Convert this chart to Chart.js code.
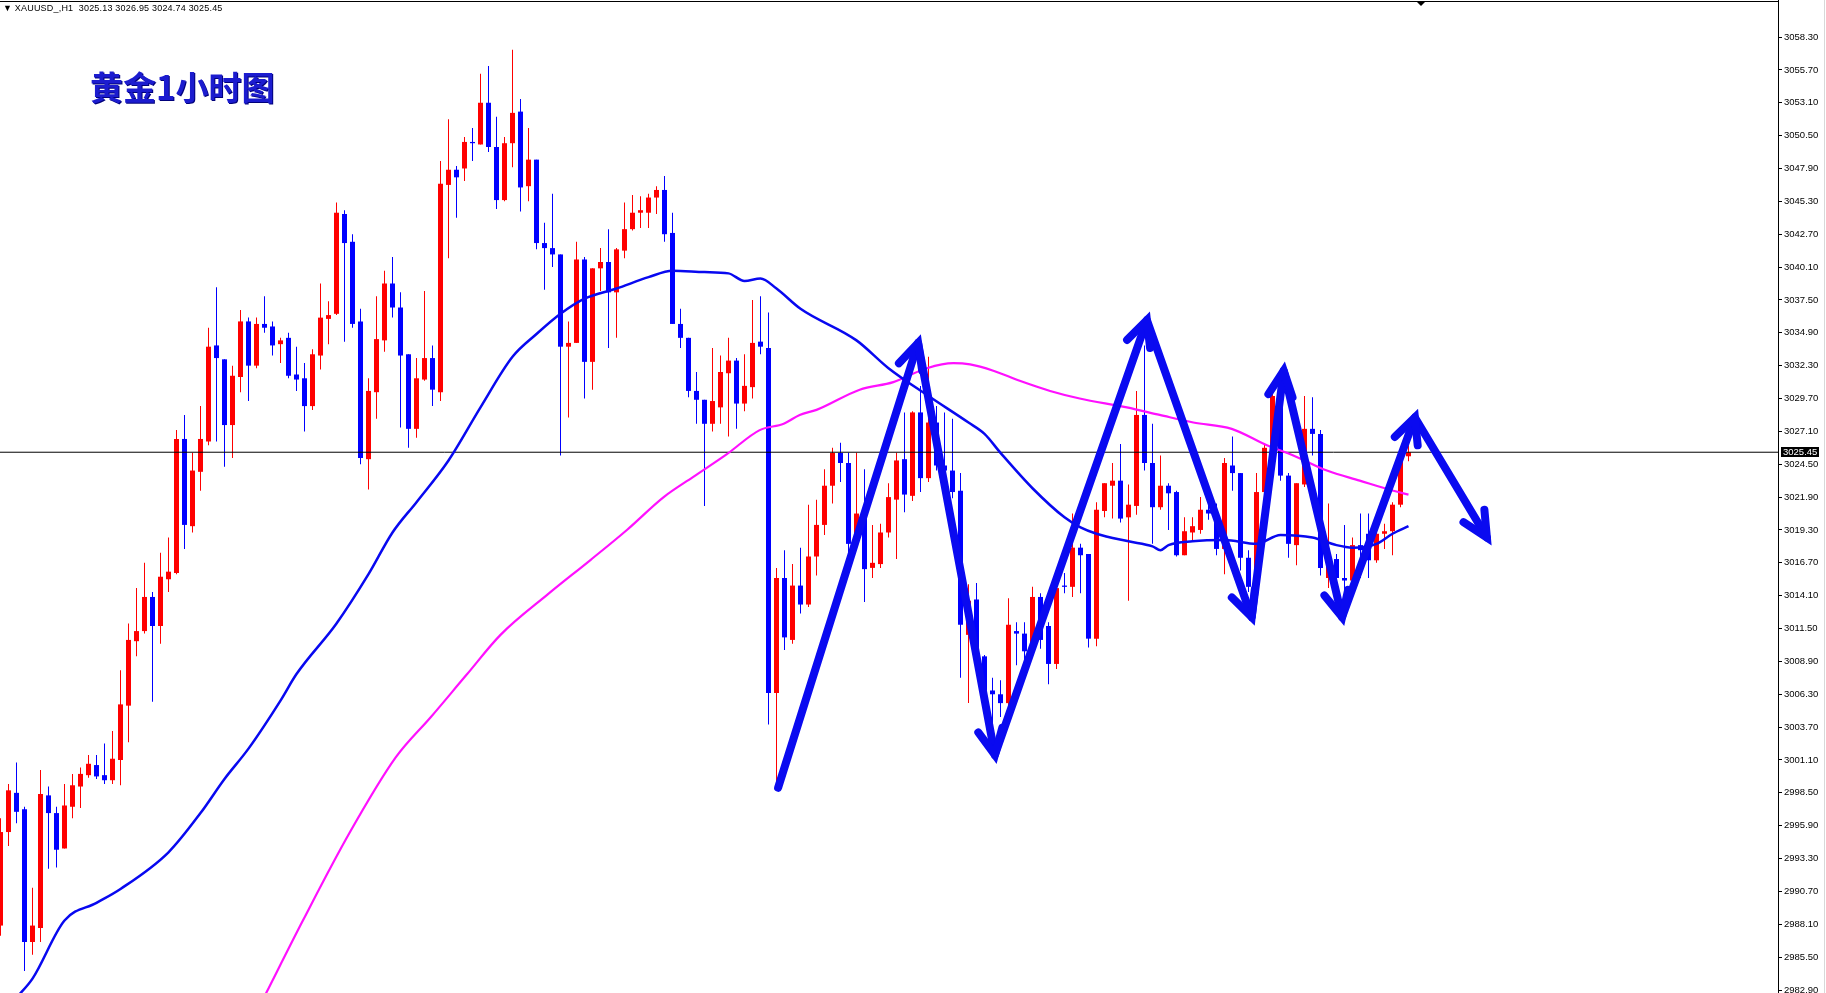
<!DOCTYPE html>
<html>
<head>
<meta charset="utf-8">
<script src="https://cdn.jsdelivr.net/npm/chart.js@4.4.1/dist/chart.umd.min.js"></script>
<style>
  html, body { margin: 0; padding: 0; background: #fff; }
  #wrap { position: relative; width: 1826px; height: 993px; overflow: hidden; }
  #chart { position: absolute; left: 0; top: 0; }
  #header { position: absolute; left: 3px; top: 3px; font: 9px "Liberation Sans", Arial, sans-serif; letter-spacing: 0.2px; color: #000; white-space: pre; }
  #title { position: absolute; left: 90px; top: 70px; font: bold 33px "Noto Sans CJK SC", sans-serif; color: #1c1ccf; text-shadow: 1px 1px 0 #00007a; line-height: 1; }
</style>
</head>
<body>
<div id="wrap">
  <canvas id="chart" width="1826" height="993"></canvas>
  <div id="header">▼ XAUUSD_,H1  3025.13 3026.95 3024.74 3025.45</div>
  <div id="title">黄金1小时图</div>
</div>
<script>
// XAUUSD H1 candles, oldest first
const opens = [
  2988.0, 2995.4, 2998.5, 2997.2, 2986.7, 2987.8, 2998.3, 2996.9, 2994.1, 2997.4,
  2999.0, 2999.9, 3000.7, 2999.9, 2999.5, 3001.1, 3005.4, 3010.5, 3011.3, 3014.0,
  3011.7, 3015.4, 3015.9, 3026.5, 3019.6, 3023.9, 3026.3, 3033.9, 3032.8, 3027.6,
  3031.4, 3035.8, 3032.3, 3035.6, 3035.4, 3034.0, 3034.5, 3031.6, 3031.3, 3029.1,
  3033.1, 3036.0, 3036.4, 3044.3, 3042.1, 3035.8, 3024.9, 3030.2, 3034.3, 3038.8,
  3036.9, 3033.2, 3027.3, 3031.2, 3032.9, 3030.2, 3046.6, 3047.8, 3047.9, 3050.0,
  3049.8, 3053.1, 3049.6, 3045.4, 3049.9, 3052.4, 3046.5, 3048.6, 3042.0, 3041.6,
  3041.1, 3033.8, 3034.1, 3040.7, 3032.6, 3040.0, 3040.5, 3038.1, 3041.4, 3043.1,
  3044.4, 3044.4, 3045.6, 3046.2, 3042.8, 3035.6, 3034.5, 3030.3, 3029.6, 3027.7,
  3029.0, 3031.7, 3032.7, 3029.3, 3030.6, 3034.2, 3033.7, 3006.4, 3015.5, 3010.6,
  3014.9, 3013.4, 3017.2, 3019.7, 3022.8, 3025.4, 3024.6, 3018.5, 3020.6, 3016.3,
  3016.6, 3019.1, 3021.7, 3024.9, 3022.0, 3028.6, 3023.4, 3027.8, 3024.4, 3024.0,
  3022.4, 3011.0, 3013.8, 3009.3, 3006.6, 3006.3, 3005.6, 3011.3, 3011.1, 3010.1,
  3014.0, 3011.7, 3008.7, 3014.9, 3014.8, 3017.9, 3017.4, 3010.7, 3020.8, 3022.8,
  3023.2, 3020.3, 3021.2, 3028.4, 3024.6, 3021.1, 3022.8, 3022.3, 3017.3, 3019.1,
  3019.3, 3020.9, 3020.6, 3017.8, 3024.4, 3023.8, 3017.1, 3014.8, 3022.3, 3025.8,
  3029.8, 3023.6, 3018.1, 3022.9, 3027.3, 3026.9, 3015.5, 3017.0, 3015.5, 3015.3,
  3018.1, 3019.0, 3016.9, 3019.0, 3019.2, 3021.3, 3025.13
];
const highs = [
  2996.5, 2999.2, 3000.9, 2997.4, 2991.0, 3000.3, 2999.0, 2997.4, 2999.2, 3000.0,
  3000.5, 3001.5, 3001.5, 3002.4, 3003.4, 3008.2, 3011.9, 3014.7, 3016.7, 3014.4,
  3017.5, 3018.7, 3027.2, 3028.4, 3025.4, 3029.1, 3035.3, 3038.5, 3032.8, 3032.3,
  3036.7, 3036.1, 3036.1, 3037.8, 3035.8, 3034.5, 3034.9, 3033.8, 3032.5, 3033.6,
  3038.8, 3037.4, 3045.2, 3044.6, 3042.7, 3036.8, 3031.3, 3037.8, 3039.8, 3040.9,
  3038.1, 3033.2, 3032.9, 3038.2, 3033.9, 3048.5, 3051.8, 3048.1, 3050.4, 3051.1,
  3055.4, 3056.0, 3052.0, 3050.4, 3057.3, 3053.4, 3051.1, 3048.6, 3043.6, 3045.9,
  3041.1, 3035.8, 3042.1, 3040.9, 3040.0, 3041.6, 3043.1, 3041.6, 3045.2, 3045.8,
  3045.7, 3045.9, 3046.5, 3047.3, 3044.4, 3036.8, 3034.5, 3031.8, 3029.6, 3033.7,
  3033.1, 3034.5, 3032.9, 3033.2, 3037.5, 3037.8, 3036.5, 3016.3, 3017.7, 3016.6,
  3017.9, 3021.3, 3021.7, 3024.1, 3025.8, 3026.2, 3025.4, 3025.4, 3024.1, 3019.7,
  3019.8, 3023.0, 3025.4, 3028.6, 3028.7, 3030.7, 3033.0, 3029.1, 3028.6, 3028.1,
  3023.8, 3015.0, 3015.1, 3009.4, 3007.6, 3007.4, 3013.9, 3012.0, 3012.0, 3014.8,
  3014.3, 3012.0, 3014.8, 3015.9, 3020.6, 3018.2, 3017.4, 3021.5, 3023.0, 3024.6,
  3026.1, 3022.9, 3030.3, 3033.9, 3027.7, 3025.2, 3023.0, 3022.4, 3020.3, 3020.3,
  3021.9, 3021.9, 3021.4, 3025.0, 3026.7, 3023.8, 3017.7, 3023.8, 3026.1, 3030.1,
  3030.1, 3023.8, 3023.0, 3029.9, 3029.8, 3027.2, 3021.4, 3017.4, 3019.7, 3018.7,
  3020.6, 3020.6, 3019.8, 3019.8, 3021.5, 3025.2, 3026.0
];
const lows = [
  2987.2, 2994.3, 2996.1, 2984.4, 2985.7, 2986.7, 2992.5, 2992.6, 2994.1, 2996.5,
  2997.3, 2999.7, 2999.6, 2999.2, 2999.2, 2999.1, 3002.5, 3009.3, 3011.1, 3005.7,
  3010.3, 3014.4, 3015.8, 3017.8, 3019.1, 3022.4, 3026.0, 3026.3, 3024.3, 3025.0,
  3030.2, 3029.5, 3032.1, 3034.9, 3033.1, 3032.5, 3031.3, 3030.3, 3027.1, 3028.8,
  3032.0, 3034.0, 3036.3, 3034.2, 3035.3, 3024.5, 3022.5, 3028.1, 3033.4, 3036.1,
  3027.4, 3025.8, 3026.6, 3031.1, 3029.1, 3029.5, 3040.8, 3044.0, 3046.9, 3048.5,
  3049.8, 3049.2, 3044.7, 3045.3, 3048.0, 3044.5, 3045.3, 3041.5, 3038.3, 3040.1,
  3025.2, 3028.2, 3034.1, 3029.7, 3030.4, 3038.2, 3033.7, 3034.5, 3040.8, 3043.0,
  3043.2, 3043.2, 3044.3, 3042.1, 3035.6, 3033.7, 3029.8, 3027.7, 3021.2, 3027.1,
  3027.7, 3026.7, 3027.3, 3028.7, 3029.7, 3033.2, 3003.9, 2998.9, 3009.8, 3010.3,
  3012.7, 3013.2, 3015.7, 3018.9, 3021.4, 3023.1, 3017.1, 3017.8, 3013.6, 3015.5,
  3016.3, 3018.7, 3017.0, 3020.7, 3021.6, 3022.3, 3023.1, 3024.0, 3023.4, 3021.8,
  3007.6, 3005.6, 3008.2, 3005.8, 3003.6, 3004.5, 3005.3, 3008.6, 3009.0, 3009.8,
  3009.9, 3007.1, 3008.3, 3014.3, 3014.0, 3014.3, 3010.0, 3010.1, 3020.3, 3020.2,
  3019.9, 3013.7, 3020.5, 3024.0, 3018.2, 3020.9, 3019.3, 3017.2, 3017.3, 3018.4,
  3019.0, 3020.1, 3017.3, 3015.8, 3022.4, 3016.1, 3014.4, 3014.5, 3022.0, 3025.6,
  3023.2, 3017.1, 3016.5, 3022.7, 3025.2, 3015.7, 3014.7, 3014.5, 3012.0, 3014.9,
  3015.5, 3015.5, 3016.7, 3017.8, 3017.3, 3021.1, 3024.74
];
const closes = [
  2995.4, 2998.7, 2997.0, 2986.7, 2988.0, 2998.4, 2996.9, 2994.0, 2997.5, 2999.1,
  3000.0, 3000.8, 2999.8, 2999.5, 3001.2, 3005.5, 3010.6, 3011.3, 3014.0, 3011.7,
  3015.6, 3016.0, 3026.5, 3019.7, 3024.0, 3026.5, 3033.8, 3032.9, 3027.6, 3031.5,
  3035.8, 3032.3, 3035.6, 3035.3, 3033.9, 3034.3, 3031.5, 3031.2, 3029.1, 3033.2,
  3036.1, 3036.3, 3044.4, 3042.0, 3035.6, 3025.0, 3030.3, 3034.4, 3038.8, 3036.9,
  3033.1, 3027.3, 3031.3, 3032.9, 3030.4, 3046.7, 3047.8, 3047.2, 3050.0, 3049.9,
  3053.1, 3049.6, 3045.4, 3049.9, 3052.3, 3046.4, 3048.6, 3042.0, 3041.6, 3041.1,
  3033.8, 3034.1, 3040.7, 3032.6, 3040.0, 3040.5, 3038.1, 3041.5, 3043.1, 3044.4,
  3044.6, 3045.6, 3046.2, 3042.7, 3035.6, 3034.5, 3030.3, 3029.6, 3027.7, 3029.5,
  3031.8, 3032.7, 3029.3, 3030.7, 3034.1, 3033.8, 3006.4, 3015.5, 3010.8, 3014.9,
  3013.4, 3017.2, 3019.7, 3022.8, 3025.4, 3024.6, 3018.2, 3020.6, 3016.2, 3016.7,
  3019.1, 3021.9, 3024.8, 3022.1, 3028.6, 3023.4, 3027.8, 3024.4, 3024.0, 3022.3,
  3011.8, 3013.7, 3009.8, 3006.6, 3006.3, 3005.6, 3011.8, 3011.1, 3009.7, 3014.0,
  3010.6, 3008.7, 3014.7, 3014.8, 3017.9, 3017.3, 3010.7, 3020.9, 3023.0, 3023.2,
  3020.2, 3021.3, 3028.4, 3024.6, 3021.1, 3022.8, 3022.2, 3017.3, 3019.2, 3019.6,
  3020.9, 3020.6, 3017.8, 3024.6, 3023.8, 3017.1, 3014.8, 3022.3, 3025.8, 3029.9,
  3023.6, 3018.2, 3023.0, 3027.3, 3026.9, 3016.3, 3016.5, 3015.5, 3015.3, 3018.1,
  3017.7, 3016.9, 3019.0, 3019.2, 3021.3, 3025.0, 3025.45
];

// price scale labels on the right
const priceTicks = [
  3058.3, 3055.7, 3053.1, 3050.5, 3047.9, 3045.3, 3042.7, 3040.1, 3037.5, 3034.9,
  3032.3, 3029.7, 3027.1, 3024.5, 3021.9, 3019.3, 3016.7, 3014.1, 3011.5, 3008.9,
  3006.3, 3003.7, 3001.1, 2998.5, 2995.9, 2993.3, 2990.7, 2988.1, 2985.5, 2982.9
];
const bidPrice = 3025.45;

// blue moving average (bar index, price)
const fastMaX = [2, 4, 8, 12, 15, 21, 25, 28, 31, 35, 37, 42, 46, 49, 52, 56, 60, 64, 67, 70,
  73, 77, 81, 84, 88, 91, 93, 95, 97, 100, 107, 111, 116, 121, 123, 125, 129, 133, 135, 137,
  141, 144, 145, 146, 149, 153, 157, 160, 164, 167, 169, 172, 174, 176];
const fastMaY = [2982.3, 2983.8, 2988.4, 2989.8, 2990.9, 2993.8, 2996.9, 2999.6, 3002.0, 3005.8,
  3007.9, 3011.9, 3015.8, 3019.1, 3021.5, 3024.8, 3029.0, 3033.0, 3034.8, 3036.4,
  3037.6, 3038.4, 3039.3, 3039.8, 3039.7, 3039.6, 3039.0, 3039.2, 3038.4, 3036.8,
  3034.3, 3032.1, 3029.9, 3027.8, 3026.9, 3025.4, 3022.6, 3020.3, 3019.5, 3019.0,
  3018.4, 3018.0, 3017.7, 3018.1, 3018.4, 3018.5, 3018.2, 3018.9, 3018.7, 3018.1,
  3017.9, 3018.2, 3019.0, 3019.6];

// magenta moving average (bar index, price)
const slowMaX = [33.0, 37.8, 43.6, 49.4, 53.8, 58.2, 62.5, 68.4, 73.7, 78.3, 82.9, 86.6, 90.8,
  94.9, 97.9, 99.9, 102.0, 107.4, 111.6, 115.8, 119.1, 121.2, 124.1, 127.4, 131.2, 134.9,
  140.8, 144.9, 149.1, 153.9, 158.3, 161.6, 165.8, 169.9, 174.1, 176.0];
const slowMaY = [2982.4, 2988.4, 2995.3, 3001.3, 3004.5, 3007.8, 3011.0, 3014.2, 3016.9, 3019.3,
  3021.9, 3023.5, 3025.3, 3027.2, 3027.7, 3028.4, 3028.8, 3030.4, 3031.0, 3032.1, 3032.5,
  3032.4, 3031.9, 3031.1, 3030.3, 3029.7, 3029.0, 3028.4, 3027.8, 3027.3, 3026.0, 3025.2,
  3024.0, 3023.2, 3022.4, 3022.1];

// hand drawn zigzag arrows (bar index, price)
const arrowX = [97.2, 114.7, 124.3, 143.3, 156.4, 160.4, 167.7, 176.8, 185.8];
const arrowY = [2998.9, 3034.1, 3001.5, 3035.9, 3012.4, 3031.9, 3012.4, 3028.2, 3018.7];

const X_MIN = -0.0625, X_MAX = 222.1875; // 8px per bar
const Y_MIN = 2982.665, Y_MAX = 3061.23;

const bullColor = '#ff0000';
const bearColor = '#0000ff';
const candleColors = opens.map((o, i) => closes[i] >= o ? bullColor : bearColor);

const toPoints = (xs, ys) => xs.map((x, i) => ({ x: x, y: ys[i] }));

// arrow heads at each corner of the zigzag
const arrowHeads = {
  id: 'arrowHeads',
  afterDatasetsDraw(chart) {
    const meta = chart.getDatasetMeta(0);
    const pts = meta.data;
    const ctx = chart.ctx;
    ctx.save();
    ctx.strokeStyle = '#0a0af0';
    ctx.lineWidth = 8;
    ctx.lineCap = 'round';
    for (let i = 1; i < pts.length; i++) {
      const a = pts[i - 1], b = pts[i];
      const ang = Math.atan2(b.y - a.y, b.x - a.x);
      const len = 28, spread = 0.45;
      ctx.beginPath();
      ctx.moveTo(b.x - len * Math.cos(ang - spread), b.y - len * Math.sin(ang - spread));
      ctx.lineTo(b.x, b.y);
      ctx.lineTo(b.x - len * Math.cos(ang + spread), b.y - len * Math.sin(ang + spread));
      ctx.stroke();
    }
    ctx.restore();
  }
};

// MT4 frame bits: top border, bid price box, chart shift marker
const mtFrame = {
  id: 'mtFrame',
  afterDraw(chart) {
    const { ctx, chartArea, scales } = chart;
    ctx.save();
    ctx.fillStyle = '#000';
    ctx.fillRect(0, 1, chartArea.right, 1);
    ctx.fillStyle = '#d8d8d8';
    ctx.fillRect(1824, 0, 1, 993);
    ctx.fillStyle = '#000';
    ctx.beginPath();
    ctx.moveTo(1416, 1); ctx.lineTo(1426, 1); ctx.lineTo(1421, 6);
    ctx.closePath();
    ctx.fill();
    const y = Math.round(scales.y.getPixelForValue(bidPrice));
    ctx.fillRect(chartArea.right + 3, y - 5, 38, 10);
    ctx.fillStyle = '#fff';
    ctx.font = '9.5px "Liberation Sans", Arial, sans-serif';
    ctx.textBaseline = 'middle';
    ctx.fillText(bidPrice.toFixed(2), chartArea.right + 5, y + 0.5);
    ctx.restore();
  }
};

const ctx = document.getElementById('chart').getContext('2d');
const chart = new Chart(ctx, {
  data: {
    datasets: [
      {
        type: 'line',
        data: toPoints(arrowX, arrowY),
        borderColor: '#0a0af0',
        borderWidth: 8,
        borderCapStyle: 'round',
        borderJoinStyle: 'round',
        pointRadius: 0,
        tension: 0,
        order: 0
      },
      {
        type: 'line',
        data: toPoints(fastMaX, fastMaY),
        borderColor: '#0808f0',
        borderWidth: 2.5,
        pointRadius: 0,
        cubicInterpolationMode: 'monotone',
        order: 1
      },
      {
        type: 'line',
        data: toPoints(slowMaX, slowMaY),
        borderColor: '#ff10ff',
        borderWidth: 2.2,
        pointRadius: 0,
        cubicInterpolationMode: 'monotone',
        order: 1
      },
      {
        type: 'line',
        data: [{ x: X_MIN, y: bidPrice }, { x: X_MAX, y: bidPrice }],
        borderColor: '#000',
        borderWidth: 1,
        pointRadius: 0,
        order: 2
      },
      {
        type: 'bar',
        data: opens.map((o, i) => ({ x: i, y: [o, closes[i]] })),
        backgroundColor: candleColors,
        barThickness: 5,
        minBarLength: 1,
        grouped: false,
        borderWidth: 0,
        inflateAmount: 0,
        order: 3
      },
      {
        type: 'bar',
        data: highs.map((h, i) => ({ x: i, y: [lows[i], h] })),
        backgroundColor: candleColors,
        barThickness: 1,
        grouped: false,
        borderWidth: 0,
        inflateAmount: 0,
        order: 4
      }
    ]
  },
  options: {
    responsive: false,
    animation: false,
    devicePixelRatio: 1,
    layout: { padding: 0 },
    plugins: {
      legend: { display: false },
      tooltip: { enabled: false }
    },
    scales: {
      x: {
        type: 'linear',
        min: X_MIN,
        max: X_MAX,
        offset: false,
        display: false
      },
      y: {
        type: 'linear',
        position: 'right',
        min: Y_MIN,
        max: Y_MAX,
        afterBuildTicks: (scale) => { scale.ticks = priceTicks.map(v => ({ value: v })); },
        afterFit: (scale) => { scale.width = 48; scale.paddingTop = 0; scale.paddingBottom = 0; },
        grid: { drawOnChartArea: false, drawTicks: true, tickLength: 4, color: '#000' },
        border: { display: true, color: '#000', width: 1 },
        ticks: {
          autoSkip: false,
          padding: 2,
          color: '#000',
          font: { family: 'Liberation Sans', size: 9.5 },
          callback: (v) => Number(v).toFixed(2)
        }
      }
    }
  },
  plugins: [arrowHeads, mtFrame]
});
</script>
</body>
</html>
